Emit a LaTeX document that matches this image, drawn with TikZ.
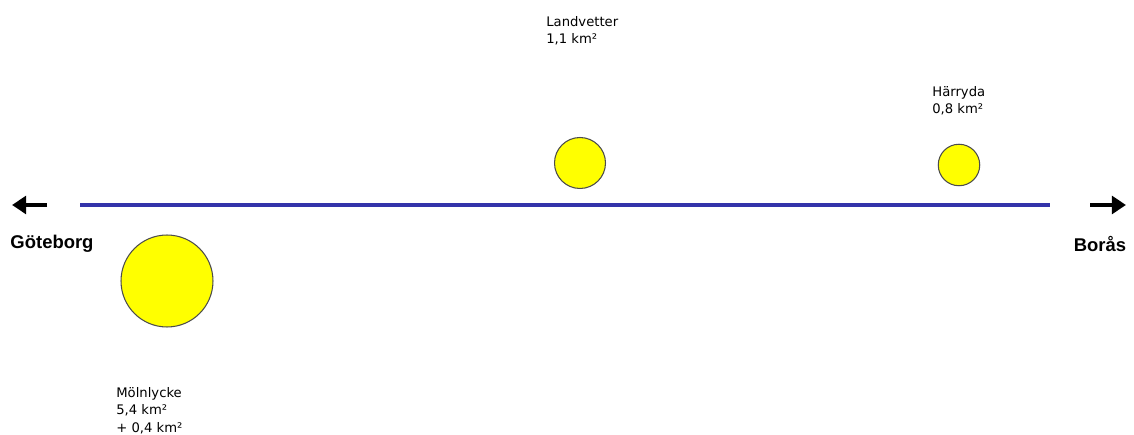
\documentclass[tikz,border=0pt]{standalone}
\usepackage{fontspec}
\setmainfont{DejaVu Sans}
\newfontfamily\boldsans{Liberation Sans}
\usetikzlibrary{arrows.meta}
\definecolor{vag}{RGB}{51,51,170}
\definecolor{tatort}{RGB}{255,255,0}
\tikzset{
  ort/.style={circle, draw=black!70, line width=0.6pt, fill=tatort, inner sep=0pt},
  etikett/.style={align=left, anchor=north west, inner sep=0pt, font=\fontsize{7.5}{10}\selectfont},
  stad/.style={font=\boldsans\bfseries\fontsize{10.5}{12}\selectfont, inner sep=0pt},
  riktning/.style={line width=2.2pt, -{Triangle[length=8pt,width=10pt]}}
}
\begin{document}
\begin{tikzpicture}[x=0.02cm, y=-0.02cm]
 \useasboundingbox (0,0) rectangle (1134,435);
 % vägen
 \coordinate (vstart) at (80,205);
 \coordinate (vslut) at (1050,205);
 \draw[vag, line width=1.8pt] (vstart) -- (vslut);
 % riktningar
 \coordinate (vpil) at (47,205);
 \coordinate (vspets) at (12,205);
 \draw[riktning] (vpil) -- (vspets);
 \node[stad] (gbg) at (52,244) {Göteborg};
 \coordinate (hpil) at (1090,205);
 \coordinate (hspets) at (1126,205);
 \draw[riktning] (hpil) -- (hspets);
 \node[stad] (boras) at (1100,244) {Borås};
 % tätorter
 \node[ort, minimum width=1.02cm, minimum height=0.93cm] (landvetter) at (580,163) {};
 \node[etikett] (landvettertext) at (546,16) {Landvetter\\1,1 km²};
 \node[ort, minimum size=0.83cm] (harryda) at (959,165) {};
 \node[etikett] (harrydatext) at (932,86) {Härryda\\0,8 km²};
 \node[ort, minimum size=1.84cm] (molnlycke) at (167,281) {};
 \node[etikett] (molnlycketext) at (116,387) {Mölnlycke\\5,4 km²\\+ 0,4 km²};
\end{tikzpicture}
\end{document}
